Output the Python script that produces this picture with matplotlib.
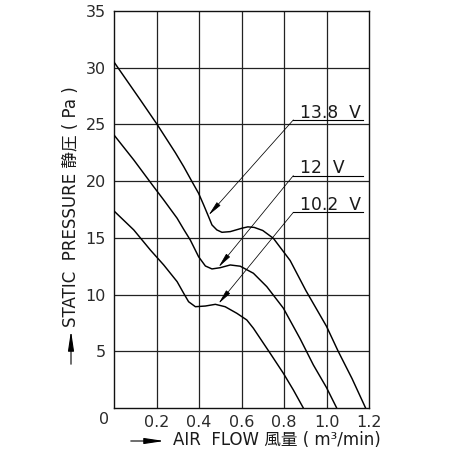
import matplotlib
matplotlib.use("Agg")
import matplotlib.pyplot as plt
from matplotlib.patches import FancyArrowPatch

plt.rcParams['font.family'] = ['DejaVu Sans', 'Noto Sans CJK JP']

# ---- data ----
x_138 = [0, 0.124, 0.203, 0.289, 0.328, 0.367, 0.398, 0.422, 0.445, 0.461,
         0.484, 0.508, 0.547, 0.602, 0.630, 0.660, 0.700, 0.75, 0.829, 0.903,
         1.0, 1.055, 1.12, 1.184]
y_138 = [30.5, 27.16, 25.0, 22.5, 21.28, 19.96, 18.93, 17.9, 16.87, 16.14,
         15.7, 15.49, 15.55, 15.85, 15.97, 15.92, 15.65, 14.96, 13.0, 10.35,
         7.2, 5.0, 2.6, 0]

x_120 = [0, 0.093, 0.187, 0.234, 0.297, 0.328, 0.359, 0.398, 0.43, 0.461,
         0.5, 0.547, 0.594, 0.656, 0.719, 0.797, 0.876, 0.938, 1.0, 1.048]
y_120 = [24.07, 21.87, 19.5, 18.34, 16.73, 15.75, 14.81, 13.34, 12.52, 12.26,
         12.37, 12.61, 12.5, 11.88, 10.7, 8.8, 6.1, 3.8, 1.8, 0]

x_102 = [0, 0.093, 0.171, 0.234, 0.297, 0.328, 0.351, 0.383, 0.43, 0.477,
         0.523, 0.578, 0.625, 0.656, 0.735, 0.797, 0.844, 0.891]
y_102 = [17.37, 15.7, 13.93, 12.61, 11.14, 10.11, 9.37, 8.93, 8.99, 9.14,
         8.93, 8.35, 7.76, 7.03, 4.82, 3.06, 1.59, 0]

series_labels = ["13.8  V", "12  V", "10.2  V"]
# label anchor (underline height) and arrow tip on each curve
label_y = [25.4, 20.49, 17.25]
tip_x = [0.445, 0.492, 0.492]
tip_y = [17.0, 12.42, 9.2]

x_ticks = [0.2, 0.4, 0.6, 0.8, 1.0, 1.2]
x_tick_labels = ["0.2", "0.4", "0.6", "0.8", "1.0", "1.2"]
y_ticks = [5, 10, 15, 20, 25, 30, 35]
y_tick_labels = ["5", "10", "15", "20", "25", "30", "35"]

fig = plt.figure(figsize=(4.51, 4.50), dpi=100)
ax = fig.add_axes([114 / 451, 42 / 450, 255 / 451, 397 / 450])
ax.set_xlim(0, 1.2)
ax.set_ylim(0, 35)

for v in x_ticks[:-1]:
    ax.axvline(v, color='#222222', lw=0.9, zorder=1)
for v in y_ticks[:-1]:
    ax.axhline(v, color='#222222', lw=0.9, zorder=1)
for s in ax.spines.values():
    s.set_color('#111111')
    s.set_linewidth(1.0)

for xs, ys in [(x_138, y_138), (x_120, y_120), (x_102, y_102)]:
    ax.plot(xs, ys, color='black', lw=1.05, zorder=3,
            solid_joinstyle='round', solid_capstyle='round')

ux0, ux1 = 0.844, 1.17
for lab, ly, tx, ty in zip(series_labels, label_y, tip_x, tip_y):
    ax.plot([ux0, ux1], [ly, ly], color='black', lw=0.8, zorder=3)
    ax.annotate("", xy=(tx, ty), xytext=(ux0, ly),
                arrowprops=dict(arrowstyle='-|>,head_length=0.9,head_width=0.15',
                                mutation_scale=10, lw=0.55, color='black',
                                shrinkA=0, shrinkB=0), zorder=4)
    ax.text(ux0 + 0.03, ly + 0.2, lab, fontsize=12.3, ha='left', va='baseline',
            color='#1a1a1a', zorder=4)

ax.set_xticks(x_ticks)
ax.set_xticklabels(x_tick_labels)
ax.set_yticks(y_ticks)
ax.set_yticklabels(y_tick_labels)
ax.tick_params(length=0, labelsize=11.5, labelcolor='#2a2a2a')
ax.tick_params(axis='x', pad=5)
ax.tick_params(axis='y', pad=6)
ax.text(-0.045, -0.97, "0", fontsize=11.5, ha='center', va='center',
        color='#2a2a2a', clip_on=False)

# axis titles with arrows
fig.text(71.5 / 451, 1 - 207 / 450, "STATIC  PRESSURE 静圧 ( Pa )", rotation=90,
         fontsize=12, ha='center', va='center', color='#1a1a1a')
fig.add_artist(FancyArrowPatch(
    (71 / 451, 1 - 367 / 450), (71 / 451, 1 - 328 / 450),
    transform=fig.transFigure, arrowstyle='-|>,head_length=1.2,head_width=0.18',
    mutation_scale=10, lw=0.8, color='black'))
fig.text(277 / 451, 1 - 440 / 450, "AIR  FLOW 風量 ( m³/min)",
         fontsize=12, ha='center', va='center', color='#1a1a1a')
fig.add_artist(FancyArrowPatch(
    (128 / 451, 1 - 441 / 450), (167 / 451, 1 - 441 / 450),
    transform=fig.transFigure, arrowstyle='-|>,head_length=1.2,head_width=0.18',
    mutation_scale=10, lw=0.8, color='black'))

fig.savefig("out.png", dpi=100)
